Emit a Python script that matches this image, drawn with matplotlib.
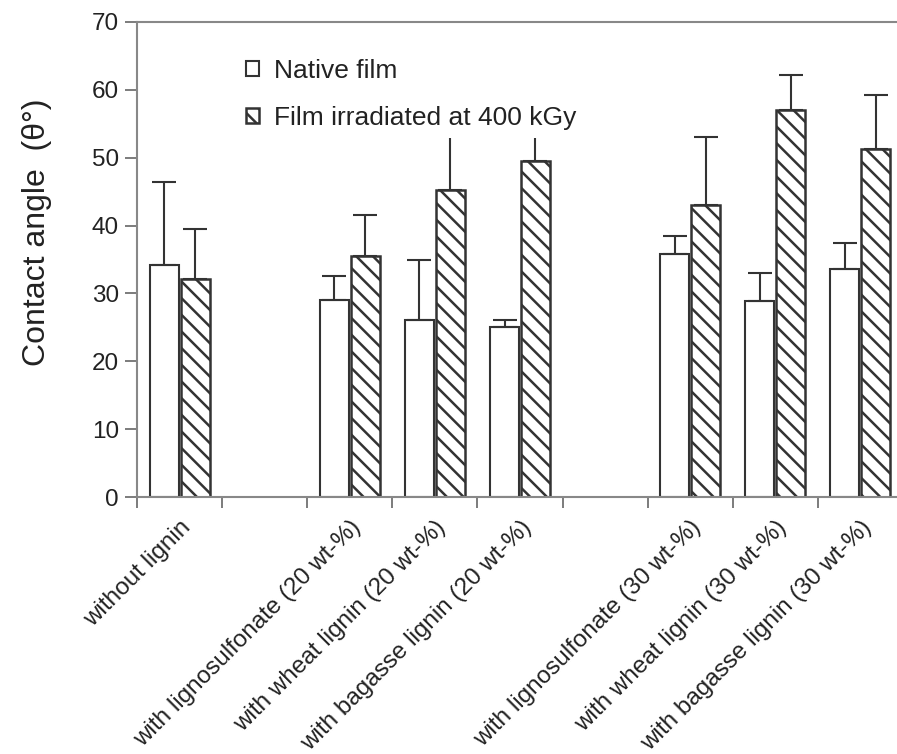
import matplotlib
matplotlib.use("Agg")
import matplotlib.pyplot as plt
import numpy as np

plt.rcParams['font.family'] = ['Liberation Sans', 'DejaVu Sans']
plt.rcParams['hatch.linewidth'] = 1.8
plt.rcParams['hatch.color'] = '#333333'

categories = ["without lignin", "",
              "with lignosulfonate (20 wt-%)", "with wheat lignin (20 wt-%)",
              "with bagasse lignin (20 wt-%)", "",
              "with lignosulfonate (30 wt-%)", "with wheat lignin (30 wt-%)",
              "with bagasse lignin (30 wt-%)"]
native = [34.2, None, 29.1, 26.1, 25.0, None, 35.8, 28.9, 33.6]
native_err = [12.2, None, 3.5, 8.8, 1.1, None, 2.7, 4.1, 3.9]
irradiated = [32.1, None, 35.5, 45.2, 49.5, None, 43.1, 57.1, 51.3]
irradiated_err = [7.4, None, 6.1, 9.0, 5.0, None, 9.9, 5.1, 7.9]
series_names = ["Native film", "Film irradiated at 400 kGy"]


def main():
    fig = plt.figure(figsize=(8.97, 7.54), dpi=100)
    ax = fig.add_axes([137 / 897, 1 - 497 / 754, 766 / 897, 475 / 754])

    ind = np.array([i for i, v in enumerate(native) if v is not None]) + 0.5
    nat = [v for v in native if v is not None]
    nat_e = [v for v in native_err if v is not None]
    irr = [v for v in irradiated if v is not None]
    irr_e = [v for v in irradiated_err if v is not None]
    width = 0.34
    off = 0.182
    ek = dict(ecolor="#333333", elinewidth=1.5, capsize=8.5, capthick=1.5)

    b1 = ax.bar(ind - off, nat, width=width, color="white", edgecolor="#333333",
                linewidth=1.5, yerr=[np.zeros(len(nat)), nat_e], error_kw=ek, zorder=2)
    b2 = ax.bar(ind + off, irr, width=width, color="white", edgecolor="#333333",
                linewidth=1.8, hatch="\\\\", yerr=[np.zeros(len(irr)), irr_e],
                error_kw=ek, zorder=2)

    ax.set_xlim(0, 9)
    ax.set_ylim(0, 70)
    ax.set_yticks(range(0, 71, 10))
    ax.set_xticks(range(0, 9))
    ax.set_xticks(np.arange(9) + 0.5, minor=True)
    ax.set_xticklabels([])
    ax.set_xticklabels(categories, minor=True, rotation=45, ha="right",
                       rotation_mode="anchor", fontsize=17.5, color="#222222")
    ax.tick_params(axis="x", which="minor", length=0, pad=14)
    ax.tick_params(axis="x", which="major", length=8, width=1.2, color="#666666",
                   direction="out")
    ax.tick_params(axis="y", length=9, width=1.2, color="#666666", labelsize=17.5,
                   labelcolor="#222222", pad=4)
    for s in ["left", "bottom", "top", "right"]:
        ax.spines[s].set_color("#888888")
        ax.spines[s].set_linewidth(1.5)

    fig.text(37 / 897, 1 - 232 / 754, "Contact angle  (\u03b8\u00b0)", rotation=90,
             ha="center", va="center", fontsize=23, color="#222222")

    lgd = ax.legend([b1, b2], series_names, loc="upper left",
                    bbox_to_anchor=(238 / 897, 1 - 51 / 754), bbox_transform=fig.transFigure,
                    fontsize=19, handlelength=0.5, handleheight=0.5, handletextpad=0.55,
                    labelspacing=0.88, frameon=True, fancybox=False, borderpad=0.3,
                    borderaxespad=0)
    lgd.get_frame().set_edgecolor("none")
    lgd.get_frame().set_facecolor("white")
    lgd.get_frame().set_alpha(1)
    lgd.set_zorder(5)
    for t in lgd.get_texts():
        t.set_color("#222222")

    plt.savefig("out.png", dpi=100)


if __name__ == '__main__':
    main()
